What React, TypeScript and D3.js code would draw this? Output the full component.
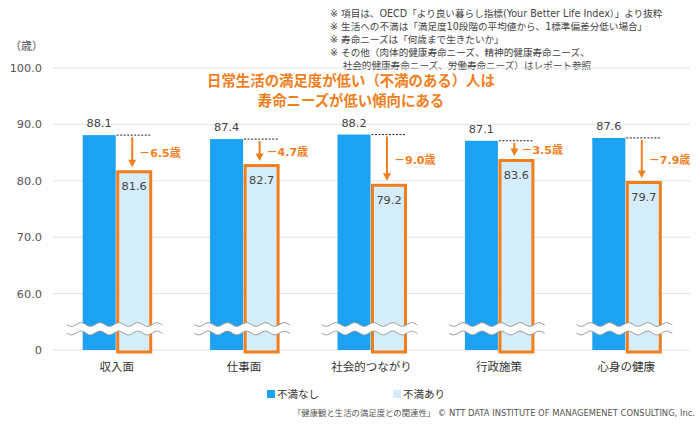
import * as d3 from 'd3';

const categories = ['収入面', '仕事面', '社会的つながり', '行政施策', '心身の健康'];
const noDissatisfaction = [88.1, 87.4, 88.2, 87.1, 87.6];
const withDissatisfaction = [81.6, 82.7, 79.2, 83.6, 79.7];
const gapLabels = ['6.5', '4.7', '9.0', '3.5', '7.9'];
const yTicks = [50, 60, 70, 80, 90, 100];
const notes = [
  '※ 項目は、OECD「より良い暮らし指標(Your Better Life Index）」より抜粋',
  '※ 生活への不満は「満足度10段階の平均値から、1標準偏差分低い場合」',
  '※ 寿命ニーズは「何歳まで生きたいか」',
  '※ その他（肉体的健康寿命ニーズ、精神的健康寿命ニーズ、',
  '　 社会的健康寿命ニーズ、労働寿命ニーズ）はレポート参照',
];

const BLUE = '#1DA1F2';
const LIGHT = '#D5ECFB';
const ORANGE = '#F07E1C';
const FONT = '"DejaVu Sans", "Noto Sans CJK JP", sans-serif';

const W = 700;
const H = 428;
const plotLeft = 53;
const plotRight = 690;
const baseY = 350;

export default function App() {
  const x = d3.scaleBand<string>().domain(categories).range([plotLeft, plotRight]);
  const y = d3.scaleLinear().domain([50, 100]).range([baseY, 68]);
  const barW = 33;
  const gap = 2;

  // decorative axis-break wave
  const wave = (x0: number, x1: number, y0: number) => {
    const pts: [number, number][] = [];
    for (let px = x0; px <= x1; px += 2) {
      pts.push([px, y0 + 2 * Math.sin(((px - x0) / 19) * Math.PI * 2)]);
    }
    return pts;
  };
  const waveLine = d3.line().curve(d3.curveBasis);

  return (
    <svg width={W} height={H} style={{ display: 'block', position: 'absolute', left: 0, top: 0 }} fontFamily={FONT}>
      <rect width={W} height={H} fill="#fff" />
      {notes.map((n, i) => (
        <text key={i} x={330} y={16.8 + i * 13} fontSize={9.6} fill="#444">
          {n}
        </text>
      ))}
      <text x={10} y={50} fontSize={11} fill="#555">（歳）</text>

      {yTicks.map((t) => (
        <g key={t}>
          <line x1={plotLeft} x2={plotRight} y1={y(t)} y2={y(t)} stroke="#E3E3E3" strokeWidth={1} />
          <text x={42} y={y(t)} dy="0.35em" textAnchor="end" fontSize={11.3} fill="#555">
            {t === 50 ? '0' : t.toFixed(1)}
          </text>
        </g>
      ))}

      <text x={351} y={86} textAnchor="middle" fontSize={14.4} fontWeight="bold" fill={ORANGE}>
        日常生活の満足度が低い（不満のある）人は
      </text>
      <text x={351} y={105.5} textAnchor="middle" fontSize={14.4} fontWeight="bold" fill={ORANGE}>
        寿命ニーズが低い傾向にある
      </text>

      {categories.map((c, i) => {
        const cx = (x(c) as number) + x.bandwidth() / 2;
        const bx = cx - gap / 2 - barW;
        const lx = cx + gap / 2;
        const by = y(noDissatisfaction[i]);
        const ly = y(withDissatisfaction[i]);
        const ax = lx + barW / 2 - 2;
        const w1 = wave(cx - 50, cx + 47, 324.5);
        const w2 = wave(cx - 50, cx + 47, 333);
        const rev = w2.slice().reverse();
        const band = `${waveLine(w1)}L${rev.map((p) => p.join(',')).join('L')}Z`;
        return (
          <g key={c}>
            <rect x={bx} y={by} width={barW} height={baseY - by} fill={BLUE} />
            <rect x={lx} y={ly} width={barW} height={baseY + 2 - ly} fill={LIGHT} stroke={ORANGE} strokeWidth={3} />
            <text x={bx + barW / 2} y={by - 8} textAnchor="middle" fontSize={11.3} fill="#444">
              {noDissatisfaction[i].toFixed(1)}
            </text>
            <text x={lx + barW / 2} y={ly + 18.5} textAnchor="middle" fontSize={11.3} fill="#444">
              {withDissatisfaction[i].toFixed(1)}
            </text>
            <line x1={bx + barW + 1} x2={lx + barW} y1={by} y2={by} stroke="#222" strokeWidth={1} strokeDasharray="2,1.5" />
            <line x1={ax} x2={ax} y1={by + 2} y2={ly - 11} stroke={ORANGE} strokeWidth={2} />
            <path d={`M${ax - 4},${ly - 12} L${ax + 4},${ly - 12} L${ax},${ly - 4.5} Z`} fill={ORANGE} />
            <text x={ax + 7} y={(by + ly) / 2} dy="0.35em" fontSize={11} fontWeight="bold" fill={ORANGE}>
              {`－${gapLabels[i]}歳`}
            </text>
            <path d={band} fill="#fff" stroke="none" />
            <path d={waveLine(w1) ?? ''} fill="none" stroke="#999" strokeWidth={1} />
            <path d={waveLine(w2) ?? ''} fill="none" stroke="#999" strokeWidth={1} />
            <text x={cx} y={371} textAnchor="middle" fontSize={11.5} fill="#333">
              {c}
            </text>
          </g>
        );
      })}

      <rect x={267} y={390} width={8} height={8} fill={BLUE} />
      <text x={277} y={394} dy="0.35em" fontSize={10.5} fill="#333">不満なし</text>
      <rect x={393} y={390} width={8} height={8} fill={LIGHT} />
      <text x={403} y={394} dy="0.35em" fontSize={10.5} fill="#333">不満あり</text>

      <text x={695} y={416} textAnchor="end" fontSize={8.4} fill="#555">
        「健康観と生活の満足度との関連性」 © NTT DATA INSTITUTE OF MANAGEMENET CONSULTING, Inc.
      </text>
    </svg>
  );
}
